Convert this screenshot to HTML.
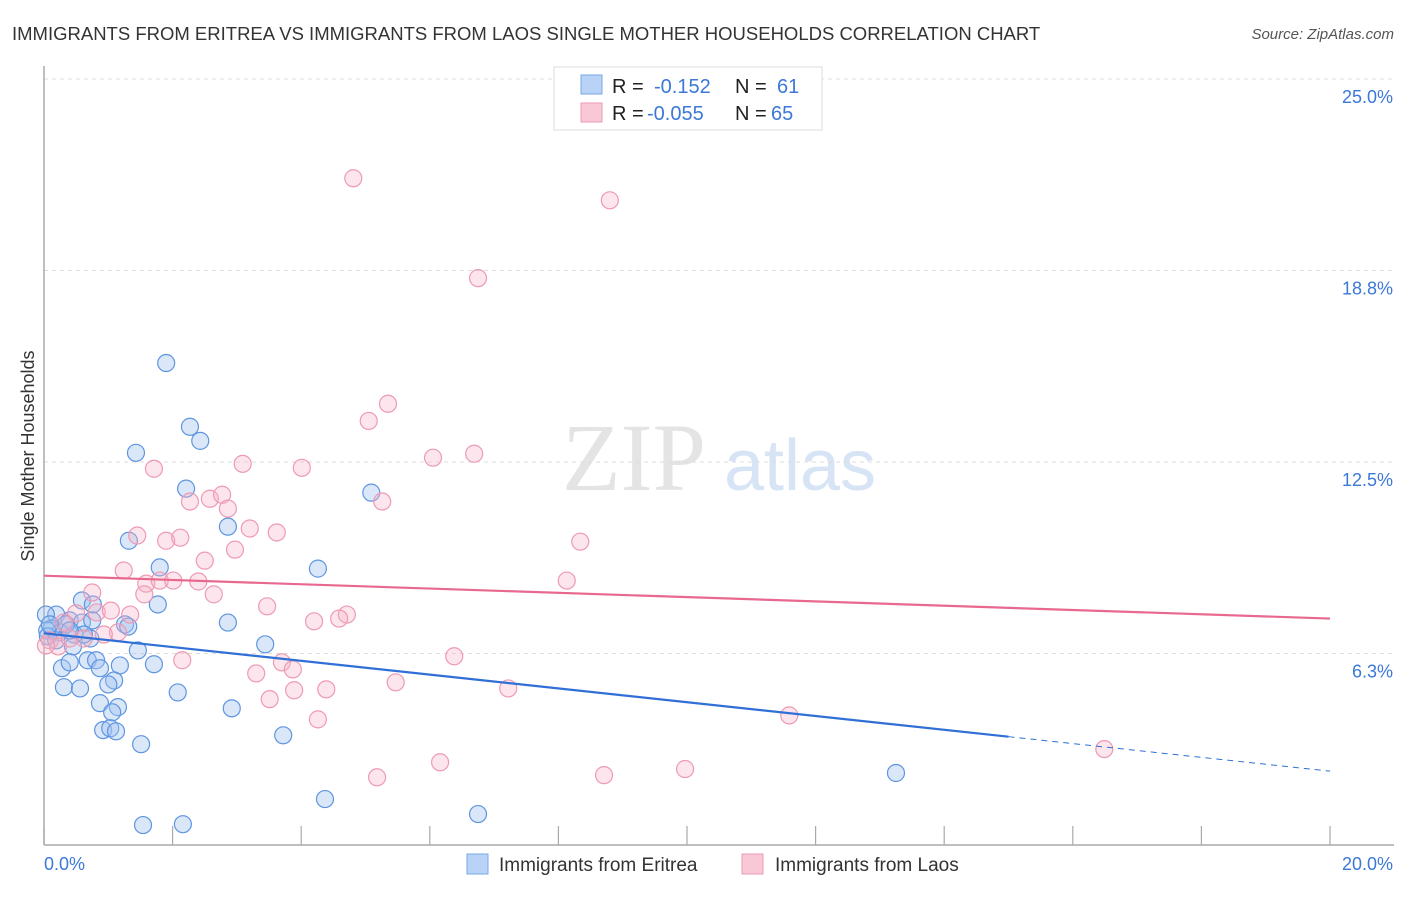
<!DOCTYPE html>
<html><head><meta charset="utf-8"><style>
body{margin:0;background:#fff;font-family:"Liberation Sans",sans-serif;}
svg text{font-family:"Liberation Sans",sans-serif;}
</style></head><body>
<svg id="chart" width="1406" height="892" xmlns="http://www.w3.org/2000/svg">
<text x="12" y="40" font-size="18.5" fill="#333">IMMIGRANTS FROM ERITREA VS IMMIGRANTS FROM LAOS SINGLE MOTHER HOUSEHOLDS CORRELATION CHART</text>
<text x="1394" y="39" font-size="15" fill="#555" text-anchor="end" font-style="italic">Source: ZipAtlas.com</text>
<text x="634" y="490" font-size="96" fill="#e4e4e4" font-family="Liberation Serif" text-anchor="middle" style="font-family:'Liberation Serif',serif">ZIP</text>
<text x="800" y="490" font-size="72" fill="#d6e4f5" text-anchor="middle">atlas</text>
<g id="grid"></g>
<g id="axes"></g>
<g id="marks"></g>
<g>
<rect x="554" y="67" width="268" height="63" fill="#fff" stroke="#ddd"/>
<rect x="581" y="75" width="21" height="19" fill="#b8d3f5" stroke="#7aa8e8"/>
<rect x="581" y="103" width="21" height="19" fill="#f9c8d6" stroke="#ee9ab3"/>
<text x="612" y="93" font-size="20" fill="#222">R = <tspan x="654" fill="#3b78d8">-0.152</tspan><tspan x="735" fill="#222">N = </tspan><tspan x="777" fill="#3b78d8">61</tspan></text>
<text x="612" y="120" font-size="20" fill="#222">R = <tspan x="647" fill="#3b78d8">-0.055</tspan><tspan x="735" fill="#222">N = </tspan><tspan x="771" fill="#3b78d8">65</tspan></text>
</g>
<g>
<rect x="467" y="854" width="21" height="20" fill="#b8d3f5" stroke="#7aa8e8"/>
<text x="499" y="871" font-size="19" fill="#333">Immigrants from Eritrea</text>
<rect x="742" y="854" width="21" height="20" fill="#f9c8d6" stroke="#ee9ab3"/>
<text x="775" y="871" font-size="19" fill="#333">Immigrants from Laos</text>
</g>
<text transform="translate(34,456) rotate(-90)" font-size="18" fill="#333" text-anchor="middle">Single Mother Households</text>
</svg>
<script>
const yTicks=[6.25,12.5,18.75,25];
const yTickLabels=["6.3%","12.5%","18.8%","25.0%"];
const xTicks=[0,2,4,6,8,10,12,14,16,18,20];
const eritreaX=[1.90,2.27,2.43,1.43,2.21,5.09,2.86,1.32,1.80,4.26,1.77,0.59,0.76,0.19,0.03,0.40,0.59,1.26,0.12,0.25,0.05,0.47,0.72,3.44,2.86,0.45,1.46,0.68,0.81,1.18,0.28,0.40,0.87,1.71,1.09,1.00,0.31,0.56,2.08,0.87,1.15,1.06,2.92,0.92,1.03,1.12,1.51,3.72,13.25,4.37,6.75,1.54,2.16,0.06,0.19,0.75,1.31,0.34,0.62,0.09,0.40];
const eritreaY=[15.73,13.65,13.19,12.80,11.63,11.50,10.39,9.93,9.06,9.02,7.85,7.98,7.85,7.52,7.52,7.33,7.26,7.20,7.07,6.94,7.00,6.87,6.74,6.55,7.26,6.48,6.35,6.03,6.03,5.86,5.77,5.96,5.77,5.90,5.37,5.24,5.15,5.11,4.98,4.63,4.50,4.33,4.46,3.75,3.81,3.71,3.29,3.58,2.35,1.50,1.01,0.65,0.68,6.81,6.68,7.33,7.13,7.20,6.87,7.20,7.00];
const laosX=[4.81,8.80,6.75,5.35,5.05,6.05,6.69,1.71,3.09,4.01,2.27,2.58,2.77,2.86,5.26,1.45,1.90,2.12,3.20,2.97,3.62,2.50,1.24,8.34,8.13,1.59,1.80,2.01,2.40,1.56,0.75,2.64,1.34,0.82,1.04,0.50,3.47,4.71,4.20,4.59,1.15,0.93,0.31,0.62,2.15,3.70,3.87,3.30,6.38,5.47,3.89,4.39,7.22,3.51,4.26,11.59,16.49,6.16,5.18,8.71,9.97,0.09,0.22,0.40,0.03];
const laosY=[21.76,21.04,18.50,14.40,13.84,12.64,12.77,12.28,12.44,12.31,11.21,11.30,11.43,10.98,11.21,10.10,9.93,10.03,10.33,9.64,10.20,9.28,8.96,9.90,8.63,8.53,8.63,8.63,8.60,8.18,8.24,8.18,7.52,7.59,7.65,7.56,7.79,7.52,7.30,7.39,6.94,6.87,7.26,6.74,6.03,5.96,5.73,5.60,6.16,5.31,5.05,5.08,5.11,4.76,4.10,4.23,3.13,2.70,2.21,2.28,2.48,6.68,6.48,6.74,6.51];
const eritreaTrend=[6.91,2.41];
const laosTrend=[8.79,7.39];
const eritreaSolidEnd=15.0;

const NS="http://www.w3.org/2000/svg";
const X0=44,X1=1330,Y0=845,YTOP=79;
function sx(v){return X0+(v/20)*(X1-X0);}
function sy(v){return Y0-(v/25)*(Y0-YTOP);}
function mk(tag,attrs,parent){const e=document.createElementNS(NS,tag);for(const k in attrs)e.setAttribute(k,attrs[k]);parent.appendChild(e);return e;}
const grid=document.getElementById('grid'),axes=document.getElementById('axes'),marks=document.getElementById('marks');
yTicks.forEach((t,i)=>{
 const l=mk('line',{x1:X0,x2:1394,y1:sy(t),y2:sy(t),stroke:'#ddd','stroke-dasharray':'4,4'},grid);
 
 
 const tx=mk('text',{x:1393,y:sy(t)+24,'font-size':18,fill:'#3b78d8','text-anchor':'end'},axes);
 tx.textContent=yTickLabels[i];
 
 
});
const ya=mk('line',{x1:X0,x2:X0,y1:66,y2:Y0,stroke:'#aaa','stroke-width':1.5},axes);


const xa=mk('line',{x1:X0,x2:1394,y1:Y0,y2:Y0,stroke:'#aaa','stroke-width':1.5},axes);


xTicks.forEach(t=>{
 const l=mk('line',{x1:sx(t),x2:sx(t),y1:826,y2:Y0,stroke:'#aaa','stroke-width':1.2},axes);
 
 
});
const xl0=mk('text',{x:44,y:870,'font-size':18,fill:'#3b78d8'},axes);xl0.textContent='0.0%';


const xl1=mk('text',{x:1393,y:870,'font-size':18,fill:'#3b78d8','text-anchor':'end'},axes);xl1.textContent='20.0%';



eritreaX.forEach((x,i)=>{
 const c=mk('circle',{cx:sx(x),cy:sy(eritreaY[i]),r:8.5,fill:'rgba(160,196,240,0.4)',stroke:'#5f95e0','stroke-width':1.2},marks);
 
 
});
laosX.forEach((x,i)=>{
 const c=mk('circle',{cx:sx(x),cy:sy(laosY[i]),r:8.5,fill:'rgba(246,180,200,0.35)',stroke:'#ee9ab3','stroke-width':1.2},marks);
 
 
});
function ty(tr,x){return tr[0]+(tr[1]-tr[0])*x/20;}
const bl=mk('line',{x1:sx(0),y1:sy(eritreaTrend[0]),x2:sx(eritreaSolidEnd),y2:sy(ty(eritreaTrend,eritreaSolidEnd)),stroke:'#2f6fd6','stroke-width':2.2},marks);


const bd=mk('line',{x1:sx(eritreaSolidEnd),y1:sy(ty(eritreaTrend,eritreaSolidEnd)),x2:sx(20),y2:sy(eritreaTrend[1]),stroke:'#2f6fd6','stroke-width':1,'stroke-dasharray':'6,5'},marks);


const pl=mk('line',{x1:sx(0),y1:sy(laosTrend[0]),x2:sx(20),y2:sy(laosTrend[1]),stroke:'#e8688f','stroke-width':2.2},marks);


</script>
</body></html>
